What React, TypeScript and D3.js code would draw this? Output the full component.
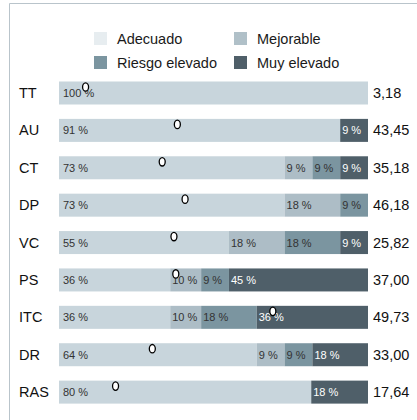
import React from 'react'
import { scaleLinear, scaleBand, sum } from 'd3'

const categories = ['TT', 'AU', 'CT', 'DP', 'VC', 'PS', 'ITC', 'DR', 'RAS']
const levels = ['Adecuado', 'Mejorable', 'Riesgo elevado', 'Muy elevado']
const adecuado = [100, 91, 73, 73, 55, 36, 36, 64, 80]
const mejorable = [0, 0, 9, 18, 18, 10, 10, 9, 0]
const riesgo = [0, 0, 9, 9, 18, 9, 18, 9, 0]
const muyElevado = [0, 9, 9, 0, 9, 45, 36, 18, 18]
const scores = ['3,18', '43,45', '35,18', '46,18', '25,82', '37,00', '49,73', '33,00', '17,64']
// marker position, in % of the bar
const markers = [8.6, 38.3, 33.4, 40.8, 37.2, 37.8, 69.2, 30.2, 18.3]

const barColors = ['#c8d5dc', '#adbdc6', '#7b95a0', '#4f5f69']
const legendColors = ['#e7edf0', '#b0c0c8', '#7b95a0', '#4f5f69']
const labelColors = ['#333', '#333', '#333', '#fff']

function App() {
    const width = 417
    const height = 420
    const font = '"Liberation Sans", Arial, Helvetica, sans-serif'

    const series = [adecuado, mejorable, riesgo, muyElevado]

    const x = scaleLinear().domain([0, 100]).range([59, 368])
    const y = scaleBand()
        .domain(categories)
        .range([82 - 13 / 2, 392 + 13 / 2])
        .paddingInner(13 / 36)
        .paddingOuter(0)

    const legendPos = [[94, 32], [234, 32], [94, 56], [234, 56]]

    return (
        <svg width={width} height={height} style={{ position: 'absolute', left: 0, top: 0, display: 'block' }} fontFamily={font}>
            <rect x={0} y={0} width={width} height={height} fill="#fff" />
            <path d={`M9.5,${height} V3.5 H${width}`} fill="none" stroke="#b9c4cb" strokeWidth={1} />

            {levels.map((l, i) => (
                <g key={l}>
                    <rect x={legendPos[i][0]} y={legendPos[i][1]} width={13} height={13} fill={legendColors[i]} />
                    <text x={legendPos[i][0] + 23} y={legendPos[i][1] + 12} fontSize={14.5} fill="#1a1a1a">{l}</text>
                </g>
            ))}

            {categories.map((c, r) => {
                const vals = series.map(s => s[r])
                const total = sum(vals)
                const y0 = y(c) + 6
                const bh = 23
                const cy = y0 + bh / 2
                let acc = 0
                return (
                    <g key={c}>
                        <text x={19} y={cy + 5} fontSize={14.5} fill="#111">{c}</text>
                        {vals.map((v, i) => {
                            const start = acc
                            acc += v / total * 100
                            if (v === 0) return null
                            return (
                                <g key={i}>
                                    <rect x={x(start)} y={y0} width={x(acc) - x(start)} height={bh} fill={barColors[i]} />
                                    <text x={x(start) + (i === 0 ? 4 : 2)} y={cy + 4} fontSize={11} fill={labelColors[i]}>{v} %</text>
                                </g>
                            )
                        })}
                        <ellipse cx={x(markers[r])} cy={y0 + 5.5} rx={3} ry={4.2} fill="#fff" stroke="#000" strokeWidth={1.3} />
                        <text x={373} y={cy + 5} fontSize={14.5} fill="#111">{scores[r]}</text>
                    </g>
                )
            })}
        </svg>
    )
}

export default App
